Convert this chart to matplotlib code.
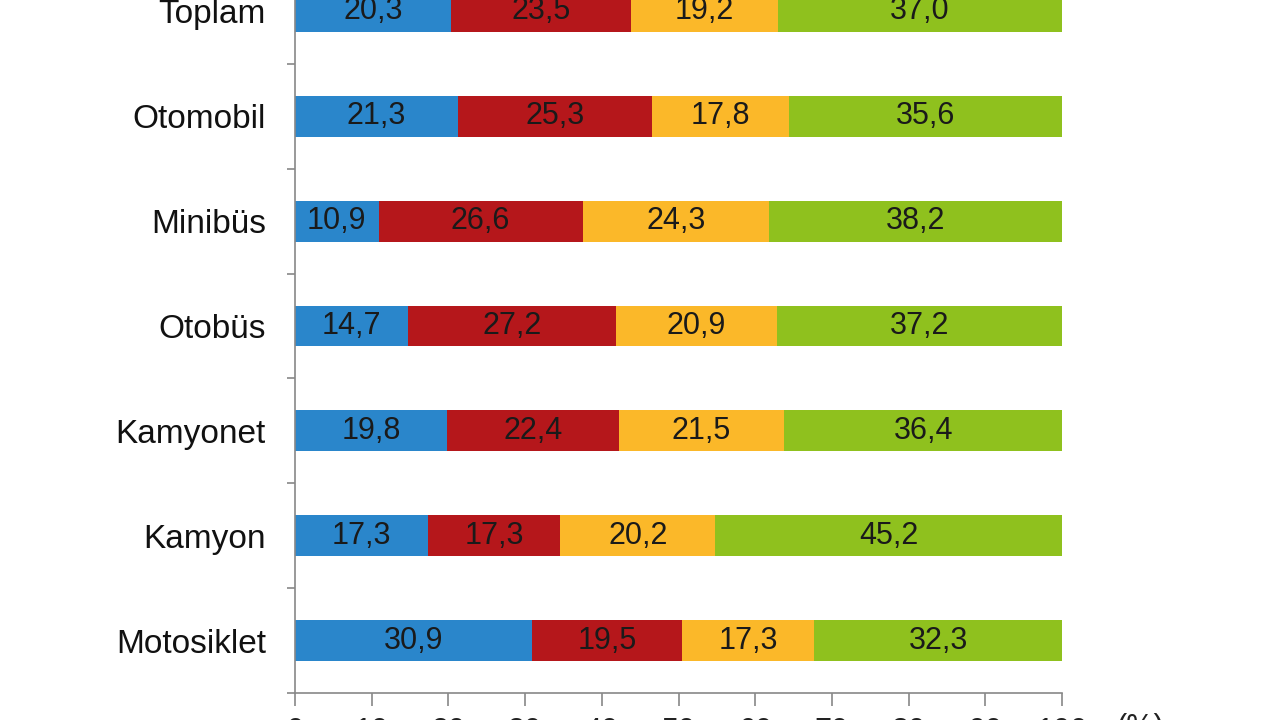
import numpy as np
import matplotlib.pyplot as plt
from matplotlib.ticker import FixedLocator

plt.rcParams['font.family'] = ['Liberation Sans', 'DejaVu Sans']

# categories, bottom to top as drawn
categories = ['Motosiklet', 'Kamyon', 'Kamyonet', 'Otobüs', 'Minibüs', 'Otomobil', 'Toplam']
seg1 = [30.9, 17.3, 19.8, 14.7, 10.9, 21.3, 20.3]
seg2 = [19.5, 17.3, 22.4, 27.2, 26.6, 25.3, 23.5]
seg3 = [17.3, 20.2, 21.5, 20.9, 24.3, 17.8, 19.2]
seg4 = [32.3, 45.2, 36.4, 37.2, 38.2, 35.6, 37.0]
colors = ['#2A86CB', '#B5171B', '#FBB829', '#8FC11E']
xticks = [0, 10, 20, 30, 40, 50, 60, 70, 80, 90, 100]

fig = plt.figure(figsize=(12.8, 7.2), dpi=100)
# axes runs past the top edge of the figure (reference is cropped)
ax = fig.add_axes([295/1280, 27/720, 767/1280, 734/720])

y = np.arange(len(categories))
left = np.zeros(len(categories))
for vals, c in zip([seg1, seg2, seg3, seg4], colors):
    vals = np.array(vals)
    ax.barh(y, vals, left=left, height=0.39, color=c, edgecolor='none')
    for yi, l, v in zip(y, left, vals):
        ax.text(l + v/2, yi, f'{v:.1f}'.replace('.', ','), ha='center', va='center',
                fontsize=22, color='#1a1a1a')
    left += vals

ax.set_xlim(0, 100)
ax.set_ylim(-0.5, 6.5)
ax.set_yticks(y)
ax.set_yticklabels(categories, fontsize=24, color='#111111')
ax.yaxis.set_minor_locator(FixedLocator(np.arange(-0.5, 7, 1.0)))
ax.tick_params(axis='y', which='major', length=0, pad=21)
ax.tick_params(axis='y', which='minor', length=6, color='#888888', width=1.2)
ax.set_xticks(xticks)
ax.set_xticklabels([str(t) for t in xticks], fontsize=22, color='#222222')
ax.tick_params(axis='x', length=9, color='#888888', width=1.2, pad=8)

for s in ['top', 'right']:
    ax.spines[s].set_visible(False)
for s in ['left', 'bottom']:
    ax.spines[s].set_color('#888888')
    ax.spines[s].set_linewidth(1.2)

fig.text(1140/1280, 7/720, '(%)', fontsize=22, ha='center', va='top', color='#222222')

plt.savefig('out.png', dpi=100)
